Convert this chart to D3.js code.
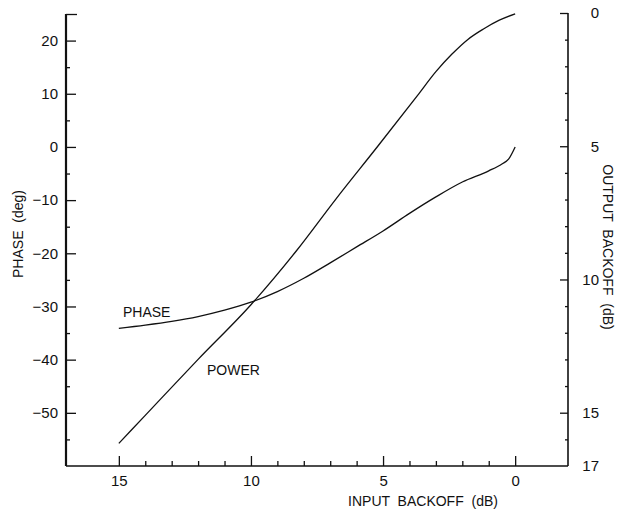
<!DOCTYPE html>
<html>
<head>
<meta charset="utf-8">
<script src="https://cdn.jsdelivr.net/npm/d3@7"></script>
<style>
	body { margin: 0; background: #fff; }
	svg { font-family: "Liberation Sans", Arial, sans-serif; }
	.tick text { font-size: 15px; fill: #111; }
	.tick line { stroke: #111; stroke-width: 1.3; }
	.curve { fill: none; stroke: #111; stroke-width: 1.3; }
	.lbl { font-size: 14px; fill: #111; }
</style>
</head>
<body>
<svg width="617" height="509"></svg>
<script>
	// input backoff (dB) / output backoff (dB)
	var powerInput = [15, 14, 12, 10, 8.3, 6.8, 5.2, 3.7, 3.0, 2.4, 1.8, 1.2, 0.6, 0];
	var outputBackoff = [16.15, 15.1, 13.0, 10.95, 8.95, 7.0, 5.0, 3.1, 2.2, 1.55, 1.0, 0.6, 0.27, 0.03];

	// input backoff (dB) / phase (deg)
	var phaseInput = [15, 14, 13, 12, 11, 10, 9, 8, 7, 6, 5, 4, 3, 2, 1, 0.5, 0.25, 0];
	var phaseDeg = [-34.1, -33.5, -32.8, -31.9, -30.7, -29.2, -27.2, -24.7, -21.8, -18.8, -15.8, -12.5, -9.4, -6.6, -4.5, -3.2, -2.3, 0];

	var xMajor = [15, 10, 5, 0];
	var xMinor = [14, 13, 12, 11, 9, 8, 7, 6, 4, 3, 2, 1];
	var phaseMajor = [-50, -40, -30, -20, -10, 0, 10, 20];
	var phaseMinor = [-55, -45, -35, -25, -15, -5, 5, 15];
	var outMajor = [0, 5, 10, 15, 17];
	var outMinor = [1, 2, 3, 4, 6, 7, 8, 9, 11, 12, 13, 14, 16];

	var svg = d3.select("svg");

	var x = d3.scaleLinear().domain([17, -2]).range([66, 568]);
	var yPhase = d3.scaleLinear().domain([-60, 25]).range([466, 14]);
	var yOut = d3.scaleLinear().domain([0, 17]).range([13, 466]);

	function noDomain(g) { g.select(".domain").remove(); }

	// bottom axis
	svg.append("g")
		.attr("transform", "translate(0,466)")
		.call(d3.axisBottom(x).tickValues(xMajor).tickSize(-10).tickPadding(9).tickFormat(d3.format("d")))
		.call(noDomain)
		.selectAll("text").attr("dy", "0.71em");
	svg.append("g")
		.attr("transform", "translate(0,466)")
		.call(d3.axisBottom(x).tickValues(xMinor).tickSize(-5).tickFormat(""))
		.call(noDomain);

	// left axis
	svg.append("g")
		.attr("transform", "translate(66,0)")
		.call(d3.axisLeft(yPhase).tickValues(phaseMajor).tickSize(-10).tickPadding(8))
		.call(noDomain);
	svg.append("g")
		.attr("transform", "translate(66,0)")
		.call(d3.axisLeft(yPhase).tickValues(phaseMinor.concat([25])).tickSize(-4).tickFormat(""))
		.call(noDomain)
		.selectAll("line").filter(function(d) { return d === 25; }).attr("x2", 11);

	// right axis
	var right = svg.append("g")
		.attr("transform", "translate(568,0)")
		.call(d3.axisRight(yOut).tickValues(outMajor).tickSize(-8).tickPadding(31))
		.call(noDomain);
	right.selectAll("text").attr("text-anchor", "end");
	right.selectAll("line").filter(function(d) { return d === 17; }).remove();
	svg.append("g")
		.attr("transform", "translate(568,0)")
		.call(d3.axisRight(yOut).tickValues(outMinor).tickSize(-3).tickFormat(""))
		.call(noDomain);

	// frame lines
	svg.append("line").attr("x1", 66).attr("x2", 66).attr("y1", yPhase(25)).attr("y2", 466)
		.attr("stroke", "#111").attr("stroke-width", 2.2);
	svg.append("line").attr("x1", 66).attr("x2", 568).attr("y1", 466).attr("y2", 466)
		.attr("stroke", "#111").attr("stroke-width", 1.6);
	svg.append("line").attr("x1", 568).attr("x2", 568).attr("y1", yOut(0)).attr("y2", 466)
		.attr("stroke", "#111").attr("stroke-width", 1.6);

	// curves
	var powerLine = d3.line()
		.x(function(d, i) { return x(powerInput[i]); })
		.y(function(d) { return yOut(d); })
		.curve(d3.curveMonotoneX);
	svg.append("path").attr("class", "curve").attr("d", powerLine(outputBackoff));

	var phaseLine = d3.line()
		.x(function(d, i) { return x(phaseInput[i]); })
		.y(function(d) { return yPhase(d); })
		.curve(d3.curveMonotoneX);
	svg.append("path").attr("class", "curve").attr("d", phaseLine(phaseDeg));

	// curve labels
	svg.append("text").attr("class", "lbl").attr("x", 123).attr("y", 317).text("PHASE");
	svg.append("text").attr("class", "lbl").attr("x", 207).attr("y", 375).text("POWER");

	// axis titles
	svg.append("text").attr("class", "lbl")
		.attr("x", 423).attr("y", 506).attr("text-anchor", "middle")
		.attr("xml:space", "preserve")
		.text("INPUT  BACKOFF  (dB)");
	svg.append("text").attr("class", "lbl")
		.attr("transform", "translate(23,234) rotate(-90)")
		.attr("text-anchor", "middle")
		.attr("xml:space", "preserve")
		.text("PHASE  (deg)");
	svg.append("text").attr("class", "lbl")
		.attr("transform", "translate(603,247) rotate(90)")
		.attr("text-anchor", "middle")
		.attr("xml:space", "preserve")
		.text("OUTPUT  BACKOFF  (dB)");
</script>
</body>
</html>
